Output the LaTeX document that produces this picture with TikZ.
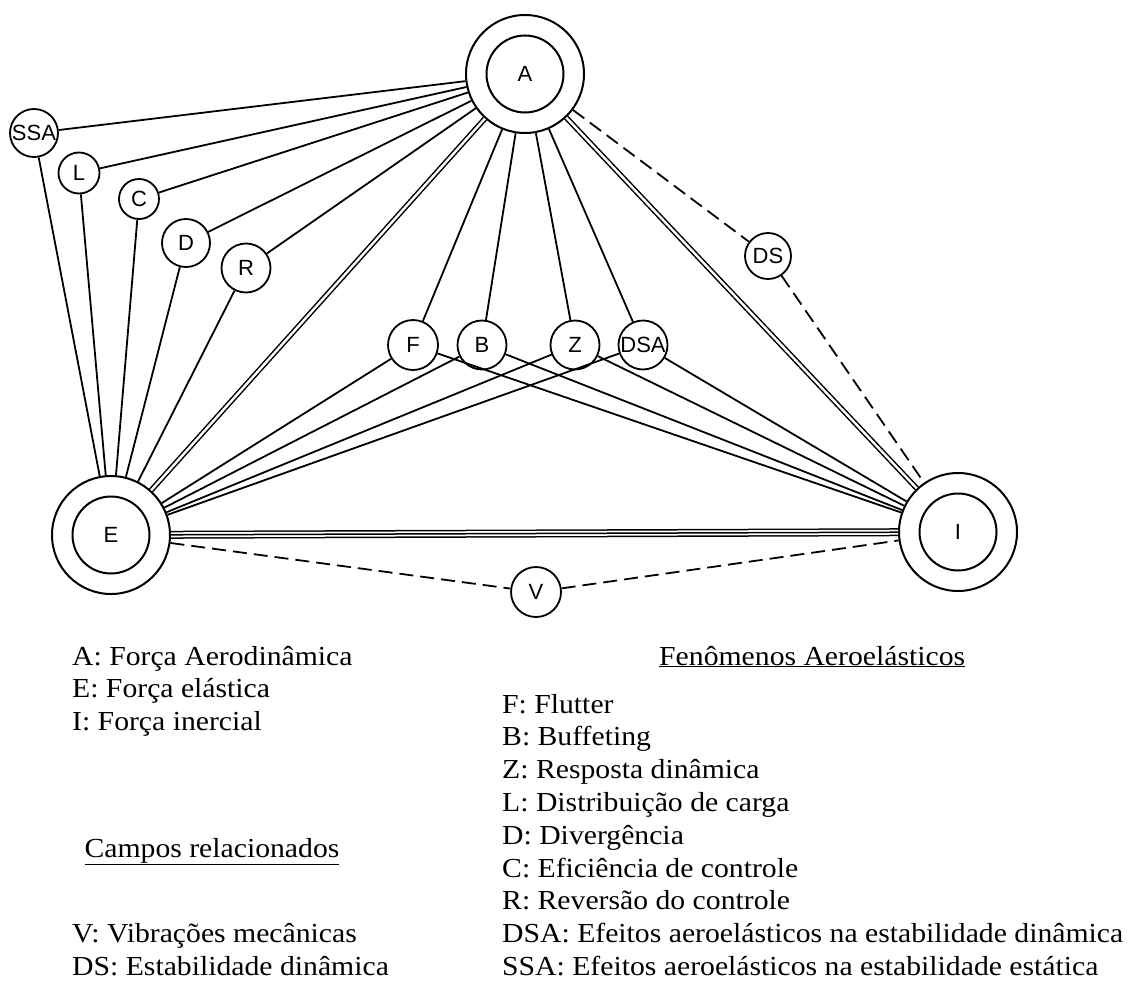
\documentclass[tikz,border=0pt]{standalone}
\usepackage{fontspec}
\setmainfont{Liberation Serif}[FakeStretch=1.08]
\newfontfamily\ringfont{Liberation Sans}
\usetikzlibrary{positioning}
\tikzset{
  force/.style={
    circle,
    draw=black, line width=2pt,
    minimum size=118pt,
    inner sep=0pt,
    font=\ringfont\fontsize{22}{22}\selectfont,
    path picture={\draw[line width=2pt] (path picture bounding box.center) circle (38.5pt);},
  },
  effect/.style={
    circle,
    draw=black, line width=1.8pt,
    minimum size=48pt,
    inner sep=0pt,
    font=\ringfont\fontsize{22}{22}\selectfont,
  },
  link/.style={line width=1.8pt},
  twin/.style={line width=1.5pt, double, double distance=2.4pt},
  linkdash/.style={line width=1.8pt, dash pattern=on 14pt off 7pt},
  legend/.style={anchor=base west, inner sep=0pt, font=\fontsize{27.5}{27.5}\selectfont},
}

\begin{document}
\begin{tikzpicture}[x=1pt,y=-1pt]
  \useasboundingbox (0,0) rectangle (1134,982);

  % forces
  \node[force] (A) at (525,74) {A};
  \node[force] (E) at (111,535) {E};
  \node[force] (I) at (958,532) {I};

  % phenomena
  \node[effect] (SSA) at (34,133) {SSA};
  \node[effect, minimum size=41pt] (L) at (79,173) {L};
  \node[effect, minimum size=40pt] (C) at (139,199) {C};
  \node[effect] (D) at (186,243) {D};
  \node[effect, minimum size=49pt] (R) at (246,268) {R};
  \node[effect, minimum size=50pt] (F) at (413,345) {F};
  \node[effect, minimum size=49pt] (B) at (482,345) {B};
  \node[effect, minimum size=49pt] (Z) at (575,345) {Z};
  \node[effect, minimum size=49pt] (DSA) at (643,345) {DSA};
  \node[effect, minimum size=46pt] (DS) at (768,256) {DS};
  \node[effect, minimum size=50pt] (V) at (536,592) {V};

  % links
  \foreach \n in {SSA,L,C,D,R} {
    \draw[link] (A) -- (\n);
    \draw[link] (\n) -- (E);
  }
  \foreach \n in {F,B,Z,DSA} {
    \draw[link] (A) -- (\n);
    \draw[link] (\n) -- (E);
    \draw[link] (\n) -- (I);
  }
  \draw[twin] (A) -- (E);
  \draw[twin] (A) -- (I);
  \draw[twin, double distance=5pt] (E) -- (I);
  \draw[line width=1.5pt] (E) -- (I);
  \draw[linkdash] (A) -- (DS);
  \draw[linkdash] (DS) -- (I);
  \draw[linkdash] (E) -- (V);
  \draw[linkdash] (V) -- (I);

  % legends
  \foreach \txt [count=\k from 0] in {A: Força Aerodinâmica, E: Força elástica, I: Força inercial}
    \node[legend] (force\k) at (72,665+32.8*\k) {\txt};
  \node[legend, anchor=base] (fields) at (212,857) {\underline{Campos relacionados}};
  \foreach \txt [count=\k from 0] in {V: Vibrações mecânicas, DS: Estabilidade dinâmica}
    \node[legend] (field\k) at (72,942.6+32.8*\k) {\txt};
  \node[legend] (phen) at (659,665) {\underline{Fenômenos Aeroelásticos}};
  \foreach \txt [count=\k from 0] in {F: Flutter, B: Buffeting, Z: Resposta dinâmica,
      L: Distribuição de carga, D: Divergência, C: Eficiência de controle,
      R: Reversão do controle, DSA: Efeitos aeroelásticos na estabilidade dinâmica,
      SSA: Efeitos aeroelásticos na estabilidade estática}
    \node[legend] (phen\k) at (502,713+32.8*\k) {\txt};
\end{tikzpicture}
\end{document}
